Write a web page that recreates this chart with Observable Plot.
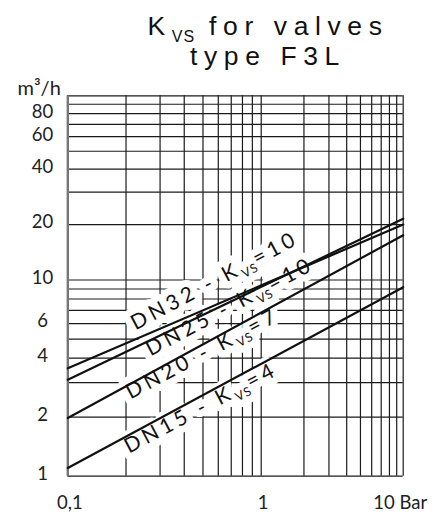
<!DOCTYPE html>
<html><head><meta charset="utf-8">
<script src="https://cdn.jsdelivr.net/npm/d3@7"></script>
<script src="https://cdn.jsdelivr.net/npm/@observablehq/plot@0.6"></script>
<style>
html,body{margin:0;padding:0;background:#fff;}
#wrap{position:relative;width:436px;height:512px;overflow:hidden;background:#fff;}
#title{position:absolute;left:268px;top:13px;transform:translateX(-50%);font-family:"Liberation Sans",Arial,sans-serif;font-size:26.5px;line-height:27px;letter-spacing:6.6px;text-align:center;white-space:nowrap;color:#111;z-index:2;}
#title sub{font-size:16px;vertical-align:baseline;position:relative;top:7px;letter-spacing:1px;}
#chart{position:absolute;left:0;top:68px;}
</style></head><body>
<div id="wrap"><div id="title">K<sub>VS</sub> for valves<br>type F3L</div><div id="chart"></div></div>
<script>
// ---- data ----
const series = ["DN15", "DN20", "DN25", "DN32"];
const kvs = [4, 7, 10, 10];
const pressureEnds = [0.1, 10];          // bar
const dn15Flow = [1.10, 9.19];           // m3/h at 0.1 and 10 bar
const dn20Flow = [1.98, 17.5];
const dn25Flow = [3.10, 21.5];
const dn32Flow = [3.55, 20.0];
const labelPressure = [0.207, 0.211, 0.268, 0.224];
const labelFlow = [1.30, 2.46, 4.08, 5.53];
const xGrid = [0.1,0.2,0.3,0.4,0.5,0.6,0.7,0.8,0.9,1,2,3,4,5,6,7,8,9,10];
const yGrid = [1,2,3,4,5,6,7,8,9,10,20,30,40,50,60,70,80,90,100];
const yTicks = [1, 2, 4, 6, 10, 20, 40, 60, 80];
const xTicks = [0.1, 1];
const xTickLabels = ["0,1", "1"];
const xLastTick = [10];
const xLastLabel = ["10 Bar"];

const flows = [dn15Flow, dn20Flow, dn25Flow, dn32Flow];
const lineData = series.flatMap((s, i) => pressureEnds.map((p, j) => ({series: s, p, q: flows[i][j]})));
const labels = series.map((s, i) => ({p: labelPressure[i], q: labelFlow[i], text: `${s} - K_{VS}=${kvs[i]}`}));
const xLab = xTicks.map((v, i) => ({v, t: xTickLabels[i]}));

const FONT = "Lato, 'Liberation Sans', sans-serif";
const labelOpts = {x: "p", y: "q", text: "text", rotate: -28, textAnchor: "start", lineAnchor: "bottom", fontSize: 21, fontFamily: FONT};

const svg = Plot.plot({
  width: 436, height: 444,
  marginLeft: 67.3, marginRight: 33.3, marginTop: 27.3, marginBottom: 36.3,
  x: {type: "log", domain: [0.1, 1, 10], range: [67.3, 260.7, 402.7], axis: null},
  y: {type: "log", domain: [1, 10, 100], range: [407.7, 211.5, 27.3], axis: null},
  style: {background: "transparent", fontFamily: FONT, color: "#111"},
  marks: [
    Plot.ruleY(yGrid, {x1: 0.1, x2: 10, stroke: "#1b1b1b", strokeWidth: 1.2}),
    Plot.ruleX(xGrid, {y1: 1, y2: 100, stroke: "#1b1b1b", strokeWidth: 1.2}),
    Plot.ruleX([0.1], {y1: 1, y2: 100, stroke: "#777", strokeWidth: 2.4}),
    Plot.text(labels, {...labelOpts, fill: "white", stroke: "white", strokeWidth: 14}),
    Plot.line(lineData, {x: "p", y: "q", z: "series", stroke: "#111", strokeWidth: 2.2}),
    Plot.text(labels, {...labelOpts, fill: "#111"}),
    Plot.text(yTicks, {x: 0.1, y: d => d, text: d => String(d), dx: -25.3, dy: -2, textAnchor: "middle", fontSize: 18.5, fill: "#222"}),
    Plot.text(xLab, {x: "v", y: 1, text: "t", dx: 2, dy: 26.5, textAnchor: "middle", fontSize: 18.5, fill: "#222"}),
    Plot.text(xLastTick, {x: d => d, y: 1, text: (d, i) => xLastLabel[i], dx: -30, dy: 26.5, textAnchor: "start", fontSize: 18.5, fill: "#222"}),
    Plot.text(["m³/h"], {x: 0.1, y: 100, text: d => d, dx: -7, dy: -1, textAnchor: "end", lineAnchor: "bottom", fontSize: 20, fill: "#222"})
  ]
});

// subscripts inside the rotated labels
d3.select(svg).selectAll("text").each(function() {
  const t = this.textContent;
  const m = t.match(/^(.*)_\{(.*)\}(.*)$/);
  if (!m) return;
  const sel = d3.select(this).attr("letter-spacing", 4);
  sel.text(null);
  sel.append("tspan").text(m[1]);
  sel.append("tspan").attr("dy", 5).attr("font-size", 12.5).attr("letter-spacing", 1).text(m[2]);
  sel.append("tspan").attr("dy", -5).text(m[3]);
});

document.getElementById("chart").appendChild(svg);
</script>
</body></html>
